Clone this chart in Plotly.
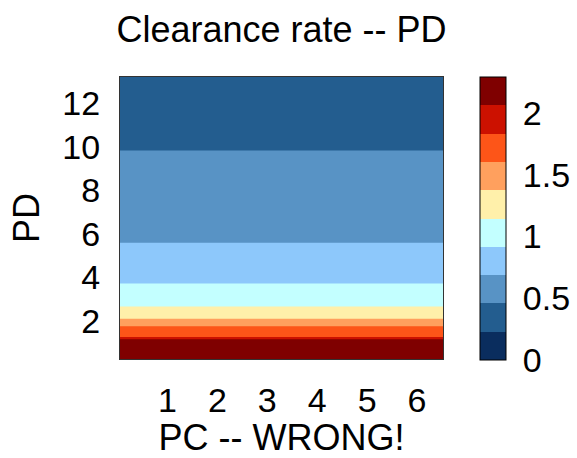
import plotly.graph_objects as go

# Clearance rate sampled along PD (rate does not vary with PC)
pd_values = [0.25, 1.16, 1.26, 1.76, 2.11, 2.64, 3.69, 5.53, 9.77, 13.2]
clearance_rate = [2.28, 2.06, 1.83, 1.60, 1.37, 1.15, 0.92, 0.69, 0.46, 0.33]
pc_values = [0.05, 1, 2, 3, 4, 5, 6, 6.52]

# Ten filled levels between 0 and the maximum rate
rate_max = 2.29
n_levels = 10
band_colors = [
    "#0a2d5e", "#235d8f", "#5893c5", "#8dc8fb", "#c3ffff",
    "#fff0aa", "#ffa05e", "#fd5518", "#cc1100", "#7f0000",
]
cbar_ticks = [0, 0.5, 1, 1.5, 2]
x_ticks = [1, 2, 3, 4, 5, 6]
y_ticks = [2, 4, 6, 8, 10, 12]

step = rate_max / n_levels
colorscale = []
for k, c in enumerate(band_colors):
    colorscale.append([k / n_levels, c])
    colorscale.append([(k + 1) / n_levels, c])

z = [[r for _ in pc_values] for r in clearance_rate]

FONT = "Liberation Sans, Arial, Helvetica, sans-serif"
FS = 34
TITLE_FS = 36

fig = go.Figure(
    go.Contour(
        x=pc_values,
        y=pd_values,
        z=z,
        zmin=0,
        zmax=rate_max,
        autocontour=False,
        contours=dict(start=step, end=rate_max - step * 0.999, size=step,
                      coloring="fill", showlines=False),
        line=dict(width=0),
        colorscale=colorscale,
        colorbar=dict(
            x=(480 - 120) / 323, xanchor="left", xpad=0,
            y=1, yanchor="top", ypad=0,
            thickness=26, thicknessmode="pixels",
            len=283, lenmode="pixels",
            outlinecolor="black", outlinewidth=1,
            tickvals=cbar_ticks, ticktext=[f"{v:g}" for v in cbar_ticks],
            ticks="outside", ticklen=10, tickcolor="rgba(0,0,0,0)",
            tickfont=dict(family=FONT, size=FS, color="black"),
        ),
        hoverinfo="skip",
    )
)

fig.update_layout(
    width=577, height=458,
    margin=dict(l=120, r=134, t=77, b=99, autoexpand=False),
    paper_bgcolor="white", plot_bgcolor="white",
    font=dict(family=FONT, size=FS, color="black"),
    title=dict(text="Clearance rate -- PD", x=0.5, xref="paper",
               y=1 - 29 / 458, yref="container", yanchor="middle",
               font=dict(family=FONT, size=TITLE_FS, color="black")),
)
fig.update_xaxes(
    range=[pc_values[0], pc_values[-1]], tickvals=x_ticks,
    showgrid=False, zeroline=False, automargin=False,
    showline=True, mirror=True, linecolor="#333", linewidth=1,
    ticks="", ticklabelstandoff=11,
    tickfont=dict(family=FONT, size=FS, color="black"),
    title=dict(text="PC -- WRONG!", standoff=15,
               font=dict(family=FONT, size=TITLE_FS, color="black")),
)
fig.update_yaxes(
    range=[pd_values[0], pd_values[-1]], tickvals=y_ticks,
    showgrid=False, zeroline=False, automargin=False,
    showline=True, mirror=True, linecolor="#333", linewidth=1,
    ticks="", ticklabelstandoff=12,
    tickfont=dict(family=FONT, size=FS, color="black"),
    title=dict(text="PD", standoff=11,
               font=dict(family=FONT, size=TITLE_FS, color="black")),
)

fig.write_html("out.html")
